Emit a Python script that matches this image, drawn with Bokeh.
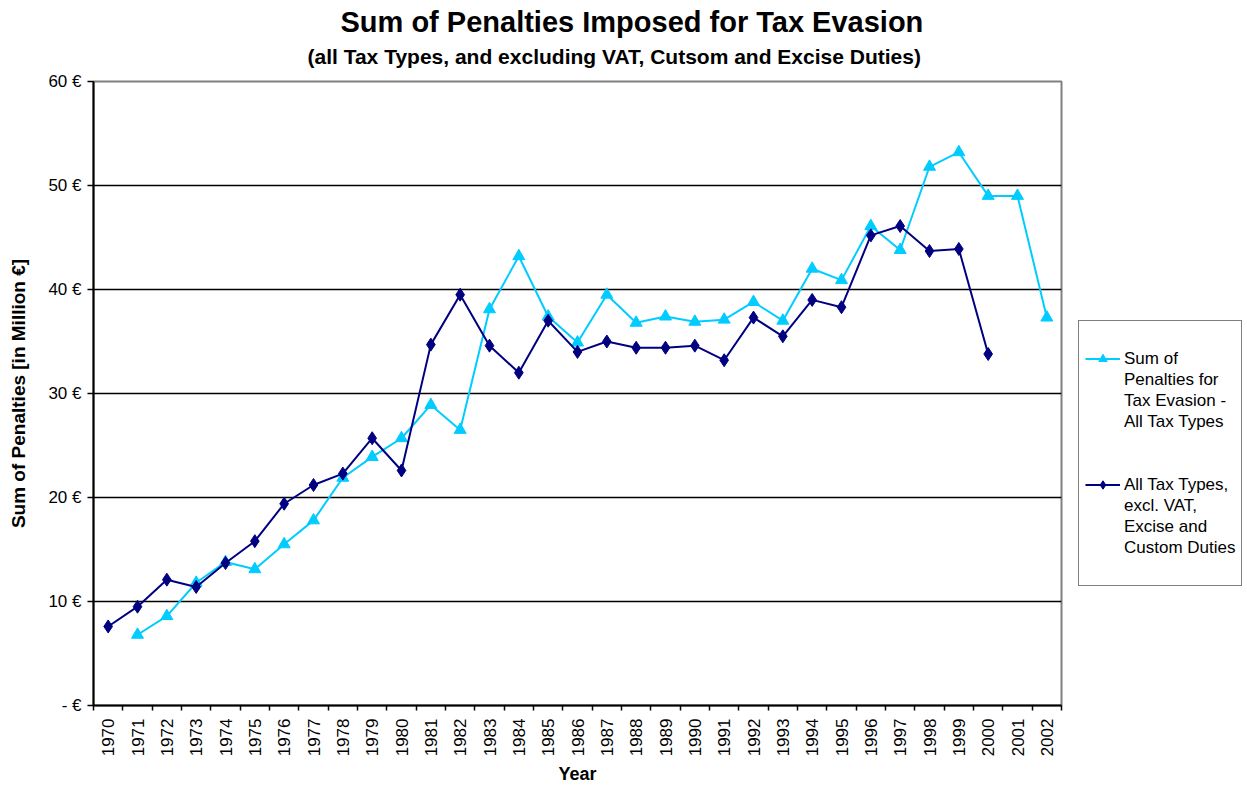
from bokeh.plotting import figure
from bokeh.layouts import row
from bokeh.models import (Range1d, FixedTicker, Legend, LegendItem, Title)
from bokeh.embed import file_html
from bokeh.resources import INLINE

# ---- data ----
years_all = list(range(1970, 2003))
years_total = list(range(1971, 2003))
penalties_total = [6.8, 8.6, 11.8, 13.8, 13.1, 15.5, 17.8, 21.9, 23.9, 25.7,
                   28.9, 26.5, 38.1, 43.2, 37.4, 34.9, 39.5, 36.8, 37.4, 36.9,
                   37.1, 38.8, 37.0, 42.0, 40.9, 46.1, 43.8, 51.8, 53.2, 49.0,
                   49.0, 37.3]
years_excl = list(range(1970, 2001))
penalties_excl = [7.6, 9.5, 12.1, 11.4, 13.7, 15.8, 19.4, 21.2, 22.3, 25.7,
                  22.6, 34.7, 39.5, 34.6, 32.0, 37.0, 34.0, 35.0, 34.4, 34.4,
                  34.6, 33.2, 37.3, 35.5, 39.0, 38.3, 45.2, 46.1, 43.7, 43.9,
                  33.8]
y_ticks = [0, 10, 20, 30, 40, 50, 60]
y_tick_labels = ["- €", "10 €", "20 €", "30 €", "40 €", "50 €", "60 €"]
label_total = ["Sum of", "Penalties for", "Tax Evasion -", "All Tax Types"]
label_excl = ["All Tax Types,", "excl. VAT,", "Excise and", "Custom Duties"]

FONT = "Liberation Sans"
LIGHT = "#00CCFF"
NAVY = "#000080"

p = figure(width=1063, height=789, output_backend="svg", toolbar_location=None,
           x_range=Range1d(years_all[0] - 0.5, years_all[-1] + 0.5),
           y_range=Range1d(0, 60),
           min_border_left=93, min_border_right=2, min_border_top=81,
           min_border_bottom=84)
p.background_fill_color = "white"
p.border_fill_color = "white"
p.outline_line_color = "#808080"
p.outline_line_width = 2

# titles (subtitle first so that it sits nearer the frame)
sub = Title(text="(all Tax Types, and excluding VAT, Cutsom and Excise Duties)",
            align="left", offset=214, text_font=FONT, text_font_size="21px",
            text_font_style="bold", text_color="black", standoff=27)
main = Title(text="Sum of Penalties Imposed for Tax Evasion",
             align="left", offset=247, text_font=FONT, text_font_size="29px",
             text_font_style="bold", text_color="black", standoff=-16)
p.add_layout(sub, "above")
p.add_layout(main, "above")

# x axis
bounds = [y - 0.5 for y in years_all] + [years_all[-1] + 0.5]
p.xaxis.ticker = FixedTicker(ticks=years_all, minor_ticks=bounds)
p.xaxis.major_label_overrides = {y: str(y) for y in years_all}
p.xaxis.major_label_orientation = 3.14159265 / 2
p.xaxis.major_tick_line_color = None
p.xaxis.minor_tick_line_color = "black"
p.xaxis.minor_tick_in = 0
p.xaxis.minor_tick_out = 5
p.xaxis.minor_tick_line_width = 1.5
p.xaxis.axis_line_color = "black"
p.xaxis.axis_line_width = 2
p.xaxis.major_label_text_font = FONT
p.xaxis.major_label_text_font_size = "17px"
p.xaxis.major_label_text_color = "black"
p.xaxis.major_label_standoff = 7
p.xaxis.axis_label = "Year"
p.xaxis.axis_label_text_font = FONT
p.xaxis.axis_label_text_font_size = "18px"
p.xaxis.axis_label_text_font_style = "bold"
p.xaxis.axis_label_text_color = "black"
p.xaxis.axis_label_standoff = 5
p.xgrid.grid_line_color = None

# y axis
p.yaxis.ticker = FixedTicker(ticks=y_ticks, minor_ticks=[])
p.yaxis.major_label_overrides = dict(zip(y_ticks, y_tick_labels))
p.yaxis.major_tick_in = 0
p.yaxis.major_tick_out = 6
p.yaxis.major_tick_line_width = 1.5
p.yaxis.minor_tick_line_color = None
p.yaxis.axis_line_color = "black"
p.yaxis.axis_line_width = 2
p.yaxis.major_label_text_font = FONT
p.yaxis.major_label_text_font_size = "17px"
p.yaxis.major_label_text_color = "black"
p.yaxis.major_label_standoff = 6
p.yaxis.axis_label = "Sum of Penalties [in Million €]"
p.yaxis.axis_label_text_font = FONT
p.yaxis.axis_label_text_font_size = "19px"
p.yaxis.axis_label_text_font_style = "bold"
p.yaxis.axis_label_text_color = "black"
p.yaxis.axis_label_standoff = 16
p.ygrid.grid_line_color = "black"
p.ygrid.grid_line_width = 1.3

# series
p.line(years_total, penalties_total, line_color=LIGHT, line_width=2)
p.scatter(years_total, penalties_total, marker="triangle", size=12,
          fill_color=LIGHT, line_color=LIGHT)
p.line(years_excl, penalties_excl, line_color=NAVY, line_width=2)
p.scatter(years_excl, penalties_excl, marker="diamond", size=13,
          fill_color=NAVY, line_color=NAVY)

# ---- legend panel (separate small figure to the right) ----
q = figure(width=184, height=789, output_backend="svg", toolbar_location=None,
           x_range=Range1d(0, 1), y_range=Range1d(0, 1),
           min_border_left=0, min_border_right=0, min_border_top=0,
           min_border_bottom=0)
q.axis.visible = False
q.grid.visible = False
q.outline_line_color = None
q.border_fill_color = "white"

# same series again; they fall outside this panel's ranges and only feed the legend
ql1 = q.line(years_total, penalties_total, line_color=LIGHT, line_width=2)
qs1 = q.scatter(years_total, penalties_total, marker="triangle", size=12,
                fill_color=LIGHT, line_color=LIGHT)
ql2 = q.line(years_excl, penalties_excl, line_color=NAVY, line_width=2)
qs2 = q.scatter(years_excl, penalties_excl, marker="diamond", size=15,
                fill_color=NAVY, line_color=NAVY)
blank = q.line(years_excl, penalties_excl, line_alpha=0)

items = [LegendItem(label=" ", renderers=[blank])]
items.append(LegendItem(label=label_total[0], renderers=[ql1, qs1]))
items += [LegendItem(label=t, renderers=[blank]) for t in label_total[1:]]
items += [LegendItem(label=" ", renderers=[blank]) for _ in range(2)]
items.append(LegendItem(label=label_excl[0], renderers=[ql2, qs2]))
items += [LegendItem(label=t, renderers=[blank]) for t in label_excl[1:]]
items.append(LegendItem(label=" ", renderers=[blank]))

legend = Legend(items=items, location=(15, 119), orientation="vertical",
                label_text_font=FONT, label_text_font_size="17px",
                label_text_color="black", label_standoff=4,
                label_height=21, glyph_height=21, glyph_width=35,
                spacing=0, padding=6, margin=0,
                border_line_color="black", border_line_width=1.5,
                background_fill_alpha=1)
q.add_layout(legend, "center")

layout = row(p, q, spacing=0)
open("out.html", "w").write(file_html(layout, INLINE))
